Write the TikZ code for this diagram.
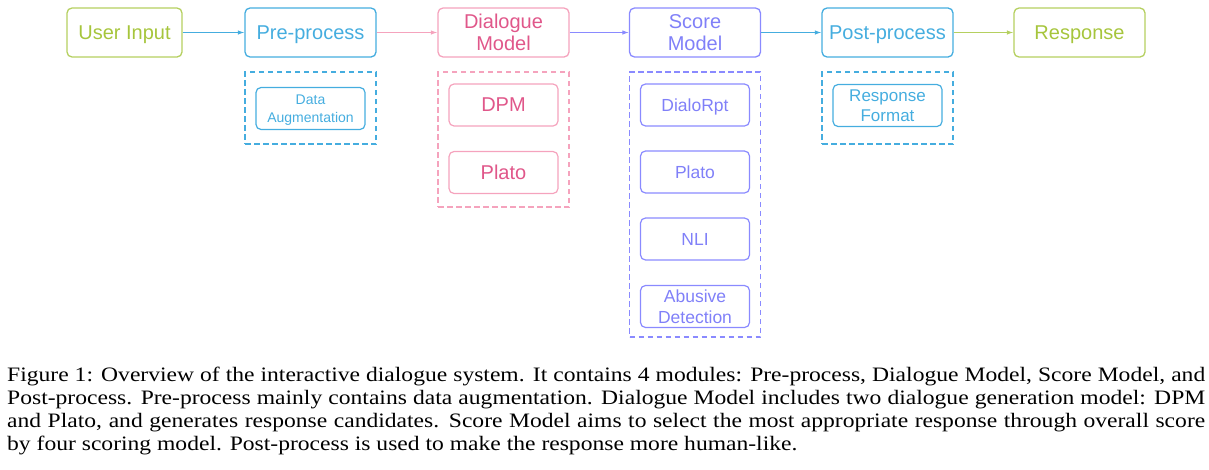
\documentclass[tikz,border=0pt]{standalone}
\usepackage{fontspec}
\setmainfont[FakeStretch=1.15]{Liberation Serif}
\newfontfamily\boxfont{Liberation Sans}
\usepackage{tikz}
\usetikzlibrary{arrows.meta}

\definecolor{ugreen}{HTML}{A6C53C}
\definecolor{ugreenline}{HTML}{B5D060}
\definecolor{ublue}{HTML}{45ADDF}
\definecolor{upink}{HTML}{E0578A}
\definecolor{upinkline}{HTML}{F5A3BD}
\definecolor{upurple}{HTML}{8080F8}
\definecolor{upurpleline}{HTML}{8A8AFF}

\begin{document}
\begin{tikzpicture}[x=1pt,y=-1pt,
    stage/.style={draw,rounded corners=5pt,line width=1.3pt,minimum width=131pt,
      minimum height=49pt,inner sep=0pt,text depth=0pt,align=center,font=\boxfont\fontsize{20}{22}\selectfont},
    part/.style={draw,rounded corners=5pt,line width=1.2pt,minimum width=109pt,
      minimum height=42pt,inner sep=0pt,text depth=0pt,align=center,font=\boxfont\fontsize{17.5}{20.5}\selectfont},
    group/.style={draw,dashed,dash pattern=on 5.5pt off 3.5pt,line width=1.1pt,
      minimum width=131pt,inner sep=0pt},
    flow/.style={-{Latex[length=6.5pt,width=4.5pt]},line width=1pt}]
   \useasboundingbox (0,0) rectangle (1209,469);
   % main pipeline
      \node[stage,ugreenline,text=ugreen,minimum width=115pt] at (124.5,32.5) (user) {User Input};
      \node[stage,ublue] at (310.5,32.5) (pre) {Pre-process};
      \node[stage,upinkline,text=upink] at (503.5,32.5) (dial) {Dialogue\\Model};
      \node[stage,upurpleline,text=upurple] at (695,32.5) (score) {Score\\Model};
      \node[stage,ublue] at (887.5,32.5) (post) {Post-process};
      \node[stage,ugreenline,text=ugreen] at (1079.5,32.5) (resp) {Response};
      \draw[flow,ublue] (user) to (pre);
      \draw[flow,upinkline] (pre) to (dial);
      \draw[flow,upurpleline] (dial) to (score);
      \draw[flow,ublue] (score) to (post);
      \draw[flow,ugreenline] (post) to (resp);
   % sub modules
      \node[group,ublue,minimum height=72pt] at (310.5,108) (preGrp) {};
      \node[part,ublue,font=\boxfont\fontsize{14}{17.5}\selectfont] at (310.5,108.5) (aug) {Data\\Augmentation};
      \node[group,upinkline,minimum height=135pt] at (503.5,139.5) (dialGrp) {};
      \node[part,upinkline,text=upink,font=\boxfont\fontsize{20}{22}\selectfont] at (503.5,105) (dpm) {DPM};
      \node[part,upinkline,text=upink,font=\boxfont\fontsize{20}{22}\selectfont] at (503.5,172.5) (platoGen) {Plato};
      \node[group,upurpleline,minimum height=265pt] at (695,204.5) (scoreGrp) {};
      \node[part,upurpleline,text=upurple] at (695,105) (rpt) {DialoRpt};
      \node[part,upurpleline,text=upurple] at (695,172) (platoScore) {Plato};
      \node[part,upurpleline,text=upurple] at (695,239) (nli) {NLI};
      \node[part,upurpleline,text=upurple] at (695,306.5) (abuse) {Abusive\\Detection};
      \node[group,ublue,minimum height=72pt] at (887.5,108) (postGrp) {};
      \node[part,ublue,font=\boxfont\fontsize{17}{20.5}\selectfont] at (887.5,105.5) (fmt) {Response\\Format};
   % caption
      \node[anchor=base west,inner sep=0pt] at (7,381) (cap) {\parbox[t]{1198pt}{\fontsize{20.5}{23.3}\selectfont
        Figure 1: Overview of the interactive dialogue system. It contains 4 modules: Pre-process, Dialogue Model, Score Model, and\linebreak
        Post-process. Pre-process mainly contains data augmentation. Dialogue Model includes two dialogue generation model: DPM\linebreak
        and Plato, and generates response candidates. Score Model aims to select the most appropriate response through overall score\linebreak
        by four scoring model. Post-process is used to make the response more human-like.}};
   \end{tikzpicture}
\end{document}
